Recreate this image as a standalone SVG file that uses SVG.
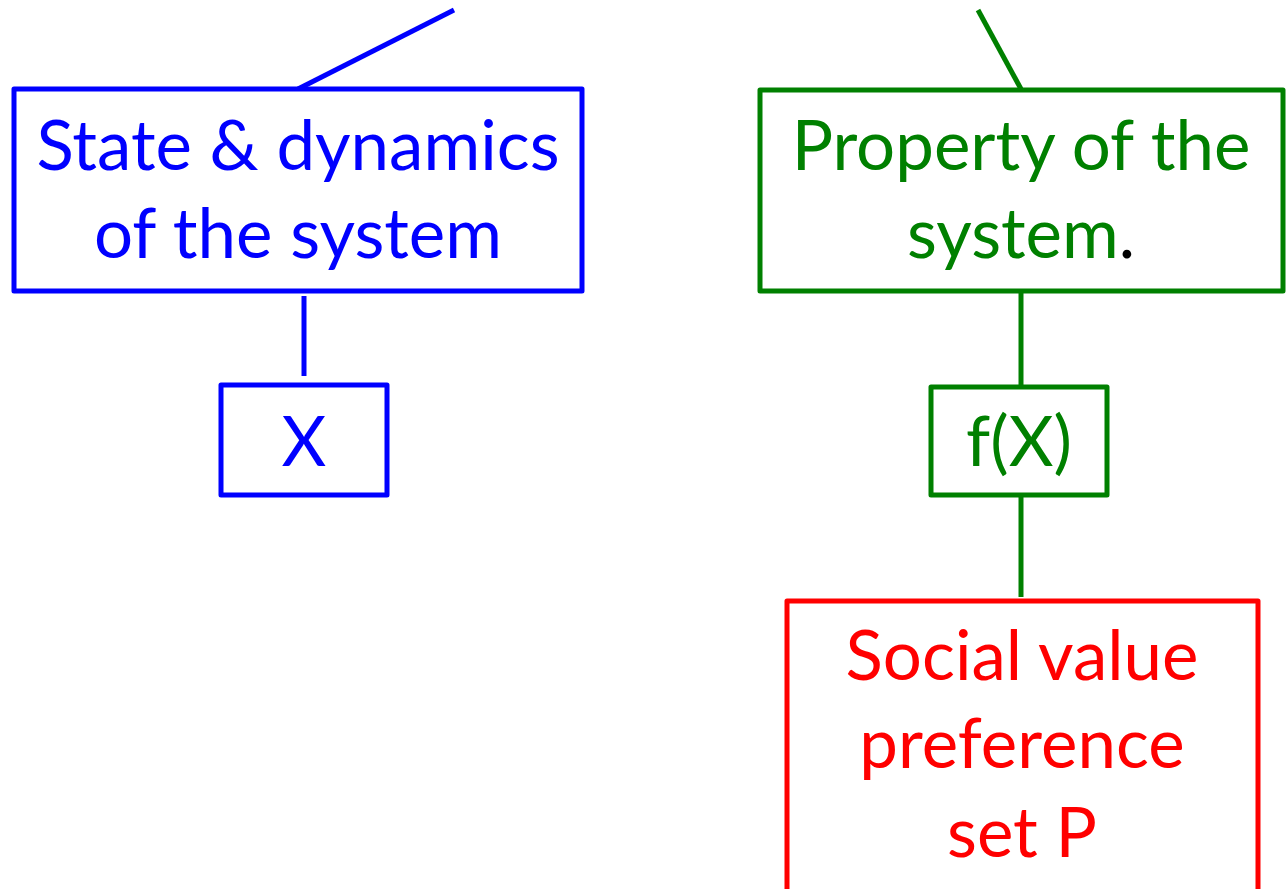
<svg xmlns="http://www.w3.org/2000/svg" width="1286" height="889" viewBox="0 0 1286 889">
<style>
.t{font-family:Lato,"Open Sans","Liberation Sans",sans-serif;font-size:69px;text-anchor:middle}
.box{fill:#fff;stroke-width:5;stroke-linejoin:round}
.blue{stroke:#0000ff}.green{stroke:#008000}.red{stroke:#ff0000}
.ln{stroke-width:5;fill:none}
</style>
<rect width="1286" height="889" fill="#fff"/>
<g id="connectors">
<line class="ln blue" x1="298" y1="89" x2="454" y2="10"/>
<line class="ln blue" x1="304" y1="296" x2="304" y2="376"/>
<line class="ln green" x1="978" y1="10" x2="1021" y2="89"/>
<line class="ln green" x1="1021" y1="291" x2="1021" y2="389"/>
<line class="ln green" x1="1021" y1="495" x2="1021" y2="597"/>
</g>
<g id="state">
<rect class="box blue" x="14" y="89" width="568" height="202"/>
<text class="t" fill="#0000ff" x="298" y="170">State &amp; dynamics</text>
<text class="t" fill="#0000ff" x="298" y="258">of the system</text>
</g>
<g id="x">
<rect class="box blue" x="221" y="385" width="166" height="110"/>
<text class="t" fill="#0000ff" x="304" y="466">X</text>
</g>
<g id="property">
<rect class="box green" x="760" y="90" width="523" height="201"/>
<text class="t" fill="#008000" x="1021" y="170">Property of the</text>
<text class="t" x="1021" y="258"><tspan fill="#008000">system</tspan><tspan fill="#000">.</tspan></text>
</g>
<g id="fx">
<rect class="box green" x="931" y="387" width="176" height="108"/>
<text class="t" fill="#008000" x="1019" y="466">f(X)</text>
</g>
<g id="social">
<rect class="box red" x="787" y="601" width="471" height="310"/>
<text class="t" fill="#ff0000" x="1022" y="680">Social value</text>
<text class="t" fill="#ff0000" x="1022" y="768">preference</text>
<text class="t" fill="#ff0000" x="1022" y="857">set P</text>
</g>
</svg>
